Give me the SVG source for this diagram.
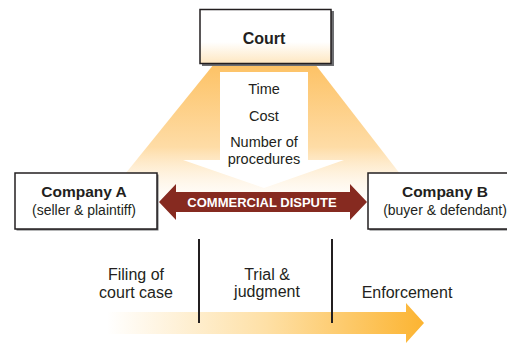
<svg xmlns="http://www.w3.org/2000/svg" width="507" height="343" viewBox="0 0 507 343">
<defs>
<linearGradient id="fanG" x1="0" y1="64" x2="0" y2="215" gradientUnits="userSpaceOnUse">
<stop offset="0" stop-color="#FDC265"/>
<stop offset="0.55" stop-color="#FEDCA6"/>
<stop offset="1" stop-color="#FFFFFF" stop-opacity="0"/>
</linearGradient>
<linearGradient id="courtG" x1="0" y1="9" x2="0" y2="64" gradientUnits="userSpaceOnUse">
<stop offset="0.6" stop-color="#FFFFFF"/>
<stop offset="1" stop-color="#FEE6BF"/>
</linearGradient>
<linearGradient id="timeG" x1="107" y1="0" x2="425" y2="0" gradientUnits="userSpaceOnUse">
<stop offset="0" stop-color="#FFFFFF"/>
<stop offset="0.5" stop-color="#FEE0A6"/>
<stop offset="1" stop-color="#FCB431"/>
</linearGradient>
</defs>
<style>
.box{fill:#FFFFFF;stroke:#231F20;stroke-width:1.5}
.sh{fill:#6D6E71}
.t{font-family:"Liberation Sans",Arial,sans-serif;fill:#231F20;text-anchor:middle}
.b{font-weight:bold}
.div{stroke:#231F20;stroke-width:2}
</style>
<rect width="507" height="343" fill="#FFFFFF"/>
<g id="fan">
<polygon points="214,64 315,64 428,210 96,210" fill="url(#fanG)"/>
</g>
<g id="court">
<rect class="sh" x="202" y="11" width="132" height="55"/>
<rect class="box" x="200" y="9.5" width="131" height="54" fill="url(#courtG)" style="fill:url(#courtG)"/>
<text class="t b" x="264" y="44" font-size="16">Court</text>
</g>
<g id="factors">
<polygon points="220,72 308,72 308,160 344,160 264,188 183,160 220,160" fill="#FFFFFF"/>
<text class="t" x="264" y="94" font-size="14.5">Time</text>
<text class="t" x="264" y="120.5" font-size="14.5">Cost</text>
<text class="t" x="264" y="146.5" font-size="14.5">Number of</text>
<text class="t" x="264" y="164" font-size="14.5">procedures</text>
</g>
<g id="companyA">
<rect class="sh" x="16.5" y="174.5" width="142" height="56"/>
<rect class="box" x="15" y="173" width="142" height="56"/>
<text class="t b" x="84" y="197" font-size="15.5">Company A</text>
<text class="t" x="84" y="215" font-size="14">(seller &amp; plaintiff)</text>
</g>
<g id="companyB">
<rect class="sh" x="369.5" y="174.5" width="142" height="56"/>
<rect class="box" x="368" y="173" width="142" height="56"/>
<text class="t b" x="445" y="197" font-size="15.5">Company B</text>
<text class="t" x="445" y="215" font-size="14">(buyer &amp; defendant)</text>
</g>
<g id="connectors">
<polygon points="159,202 176,184 176,192 350,192 350,184 367,202 350,220 350,212 176,212 176,220" fill="#862A20"/>
<text x="262" y="207" font-family="Liberation Sans,Arial,sans-serif" font-size="13" font-weight="bold" fill="#FFFFFF" text-anchor="middle">COMMERCIAL DISPUTE</text>
<polygon points="107,312 406,312 406,303 424,323 406,343 406,334 107,334" fill="url(#timeG)"/>
<line class="div" x1="199" y1="239" x2="199" y2="323"/>
<line class="div" x1="332" y1="239" x2="332" y2="323"/>
</g>
<g id="stages">
<text class="t" x="136" y="280" font-size="16">Filing of</text>
<text class="t" x="136" y="298" font-size="16">court case</text>
<text class="t" x="267" y="280" font-size="16">Trial &amp;</text>
<text class="t" x="267" y="297" font-size="16">judgment</text>
<text class="t" x="407" y="298" font-size="16">Enforcement</text>
</g>
</svg>
